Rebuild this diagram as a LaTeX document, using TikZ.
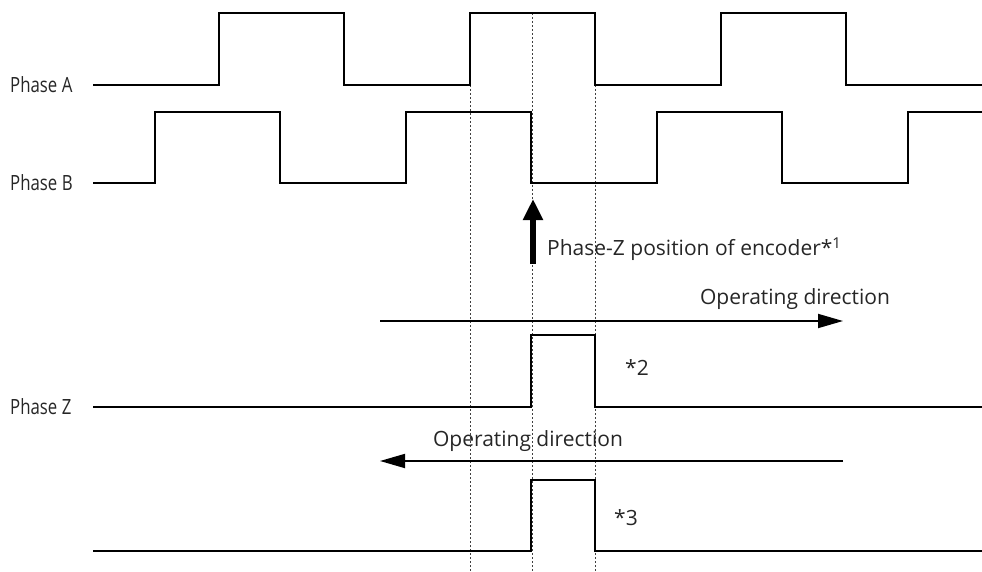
\documentclass[tikz,border=0pt]{standalone}
\usepackage{fontspec}
\setmainfont{Open Sans}
\newfontfamily\condfont[FakeStretch=0.8]{Open Sans}
\usetikzlibrary{arrows.meta}
\tikzset{
  sig/.style={line width=1.8pt, line join=miter},
  guide/.style={line width=0.8pt, dash pattern=on 2pt off 2pt, black!75},
  dirarrow/.style={line width=1.8pt, -{Triangle[length=25pt,width=14pt]}},
  zarrow/.style={line width=6.5pt, -{Triangle[length=21pt,width=19pt]}},
  plabel/.style={font=\condfont\fontsize{21}{24}\selectfont, anchor=west, inner sep=0pt, text=black!85},
  tlabel/.style={font=\fontsize{21}{24}\selectfont, inner sep=0pt, text=black!85}
}
\begin{document}
\begin{tikzpicture}[x=1pt,y=-1pt]
\useasboundingbox (0,0) rectangle (982,572);
% guides
\draw[guide] (470,85) -- (470,572);
\draw[guide] (532,13) -- (532,572);
\draw[guide] (595,85) -- (595,572);
% signals
\draw[sig] (93,85) -- (219,85) -- (219,13) -- (344,13) -- (344,85) -- (470,85) -- (470,13) -- (595,13) -- (595,85) -- (721,85) -- (721,13) -- (846,13) -- (846,85) -- (982,85);
\draw[sig] (93,183) -- (155,183) -- (155,112) -- (280,112) -- (280,183) -- (406,183) -- (406,112) -- (531,112) -- (531,183) -- (657,183) -- (657,112) -- (782,112) -- (782,183) -- (908,183) -- (908,112) -- (982,112);
\draw[sig] (93,407) -- (531,407) -- (531,335) -- (595,335) -- (595,407) -- (982,407);
\draw[sig] (93,551) -- (531,551) -- (531,480) -- (595,480) -- (595,551) -- (982,551);
% labels
\node[plabel] (la) at (10,85) {Phase A};
\node[plabel] (lb) at (10,183) {Phase B};
\node[plabel] (lz) at (10,407) {Phase Z};
% phase-Z position arrow
\coordinate (zb) at (533,264);
\coordinate (zt) at (533,199);
\draw[zarrow] (zb) -- (zt);
\node[tlabel, anchor=west] (zpos) at (547,249) {Phase-Z position of encoder*\raisebox{0.35em}{\fontsize{15}{16}\selectfont 1}};
% operating directions
\coordinate (r1) at (380,321);
\coordinate (r2) at (843,321);
\draw[dirarrow] (r1) -- (r2);
\node[tlabel] (opr) at (795,299) {Operating direction};
\coordinate (l1) at (843,461);
\coordinate (l2) at (380,461);
\draw[dirarrow] (l1) -- (l2);
\node[tlabel] (opl) at (528,441) {Operating direction};
\node[tlabel] (n2) at (637,368) {*2};
\node[tlabel] (n3) at (626,518) {*3};
\end{tikzpicture}
\end{document}
